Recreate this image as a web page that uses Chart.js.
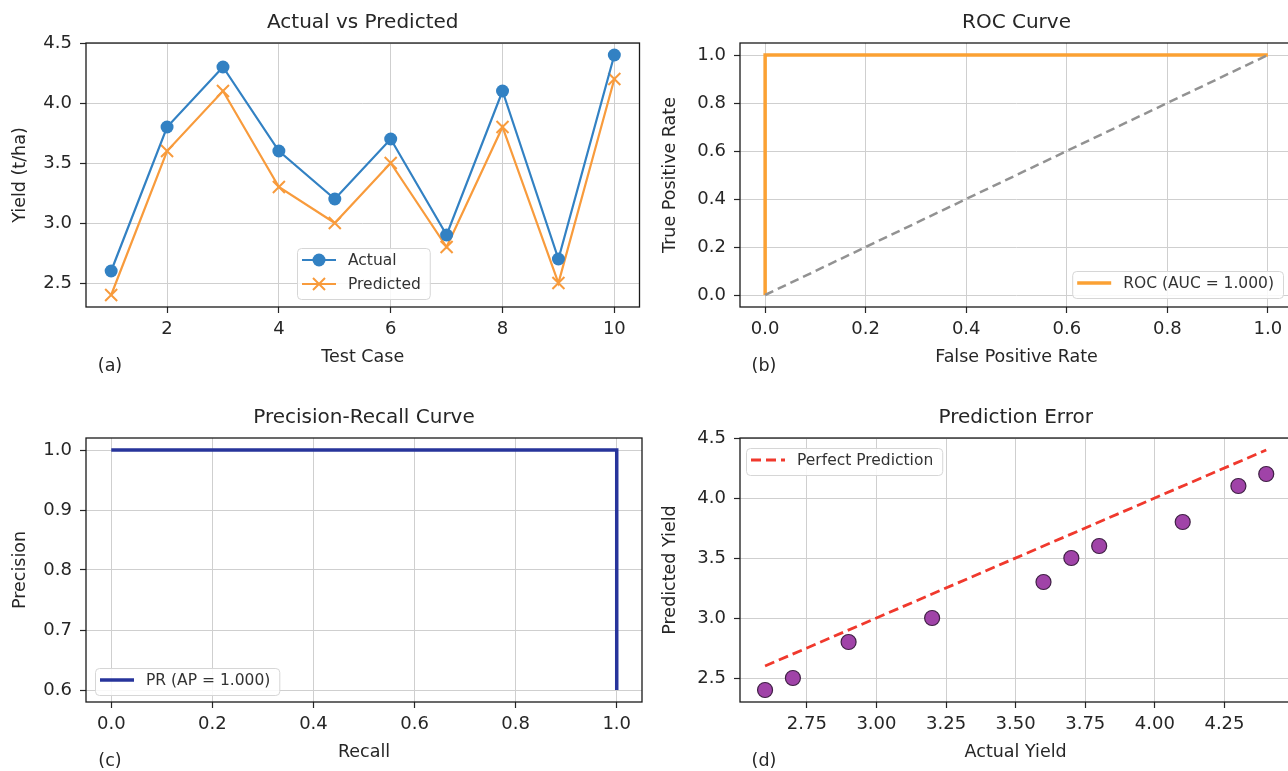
<!DOCTYPE html>
<html>
<head>
<meta charset="utf-8">
<script src="https://cdn.jsdelivr.net/npm/chart.js@4.4.1/dist/chart.umd.min.js"></script>
<style>
  html, body { margin: 0; padding: 0; background: #fff; overflow: hidden; width: 1288px; height: 771px; }
  .panel { position: absolute; }
  canvas { display: block; }
</style>
</head>
<body>
<div class="panel" style="left:0px;top:0px"><canvas id="chartA" width="650" height="387"></canvas></div>
<div class="panel" style="left:650px;top:0px"><canvas id="chartB" width="650" height="387"></canvas></div>
<div class="panel" style="left:0px;top:395px"><canvas id="chartC" width="650" height="387"></canvas></div>
<div class="panel" style="left:650px;top:395px"><canvas id="chartD" width="650" height="387"></canvas></div>
<script>
// Data
const testCases = [1, 2, 3, 4, 5, 6, 7, 8, 9, 10];
const actualYield = [2.6, 3.8, 4.3, 3.6, 3.2, 3.7, 2.9, 4.1, 2.7, 4.4];
const predictedYield = [2.4, 3.6, 4.1, 3.3, 3.0, 3.5, 2.8, 3.8, 2.5, 4.2];

const rocFpr = [0, 0, 1];
const rocTpr = [0, 1, 1];
const chanceLine = [0, 1];

const prRecall = [0, 1, 1];
const prPrecision = [1, 1, 0.6];

const perfectLine = [2.6, 4.4];

// Tick labels
const caseTicks = [2, 4, 6, 8, 10];
const yieldTicks = [2.5, 3.0, 3.5, 4.0, 4.5];
const rateTicks = [0, 0.2, 0.4, 0.6, 0.8, 1.0];
const precisionTicks = [0.6, 0.7, 0.8, 0.9, 1.0];
const actualYieldTicks = [2.75, 3.00, 3.25, 3.50, 3.75, 4.00, 4.25];

Chart.defaults.font.family = 'DejaVu Sans';
Chart.defaults.color = '#262626';

const TEXT = '#262626';
const GRID = '#cfcfcf';

function toPoints(xs, ys) {
  return xs.map((x, i) => ({ x: x, y: ys[i] }));
}

// Build a matplotlib-like linear axis
function makeAxis(o) {
  const horizontal = o.pos === 'bottom';
  return {
    type: 'linear',
    position: o.pos,
    min: o.min,
    max: o.max,
    bounds: 'data',
    afterBuildTicks: (scale) => {
      scale.ticks = o.ticks.map(v => ({ value: v }));
    },
    afterFit: (scale) => {
      if (horizontal) scale.height = 80;
      else scale.width = o.width;
    },
    ticks: {
      autoSkip: false,
      maxRotation: 0,
      padding: horizontal ? 6 : 8,
      font: { size: 18 },
      color: TEXT,
      callback: (v) => Number(v).toFixed(o.dp)
    },
    grid: {
      color: GRID,
      lineWidth: 1,
      tickLength: 6,
      tickColor: TEXT,
      tickWidth: 1.2
    },
    border: { display: false },
    title: {
      display: true,
      text: o.title,
      font: { size: 17.5 },
      color: TEXT,
      padding: horizontal ? { top: 0, bottom: 19.5 } : { top: 9.5, bottom: 9.5 }
    }
  };
}

// Axes frame (all four spines) and panel letter
const framePlugin = {
  id: 'frame',
  afterDatasetsDraw(chart, args, opts) {
    const { ctx, chartArea: a } = chart;
    ctx.save();
    ctx.strokeStyle = '#1a1a1a';
    ctx.lineWidth = 1.3;
    ctx.strokeRect(a.left, a.top, a.right - a.left, a.bottom - a.top);
    ctx.restore();
  },
  afterDraw(chart, args, opts) {
    const { ctx, chartArea: a } = chart;
    ctx.save();
    ctx.font = '17.5px "DejaVu Sans"';
    ctx.fillStyle = TEXT;
    ctx.textAlign = 'center';
    ctx.textBaseline = 'middle';
    ctx.fillText(opts.letter, a.left + 24, a.bottom + 59);
    ctx.restore();
  }
};

// Legend box drawn inside the plot area, like matplotlib
const boxLegendPlugin = {
  id: 'boxLegend',
  afterDraw(chart, args, opts) {
    const { ctx, chartArea: a } = chart;
    const items = chart.data.datasets.filter(d => d.label);
    ctx.save();
    ctx.font = '15.5px "DejaVu Sans"';
    let textW = 0;
    items.forEach(d => { textW = Math.max(textW, ctx.measureText(d.label).width); });
    const w = 5 + 34 + 12 + textW + 9;
    const h = items.length * 24 + 3;
    const x = opts.left !== undefined ? a.left + opts.left : a.right - opts.right - w;
    const y = opts.top !== undefined ? a.top + opts.top : a.bottom - opts.bottom - h;

    ctx.fillStyle = 'rgba(255,255,255,0.85)';
    ctx.strokeStyle = '#d6d6d6';
    ctx.lineWidth = 1;
    ctx.beginPath();
    ctx.roundRect(x + 0.5, y + 0.5, w, h, 4);
    ctx.fill();
    ctx.stroke();

    items.forEach((d, i) => {
      const cy = y + 12 + i * 24;
      const x0 = x + 5, x1 = x + 39, mx = (x0 + x1) / 2;
      ctx.strokeStyle = d.borderColor;
      ctx.lineWidth = d.borderWidth;
      ctx.setLineDash(d.borderDash || []);
      ctx.beginPath();
      ctx.moveTo(x0, cy);
      ctx.lineTo(x1, cy);
      ctx.stroke();
      ctx.setLineDash([]);
      if (d.legendMarker === 'circle') {
        ctx.fillStyle = d.pointBackgroundColor;
        ctx.beginPath();
        ctx.arc(mx, cy, d.pointRadius, 0, Math.PI * 2);
        ctx.fill();
      } else if (d.legendMarker === 'cross') {
        const r = d.pointRadius * 0.707;
        ctx.strokeStyle = d.pointBorderColor;
        ctx.lineWidth = d.pointBorderWidth;
        ctx.beginPath();
        ctx.moveTo(mx - r, cy - r); ctx.lineTo(mx + r, cy + r);
        ctx.moveTo(mx - r, cy + r); ctx.lineTo(mx + r, cy - r);
        ctx.stroke();
      }
      ctx.fillStyle = '#333';
      ctx.textAlign = 'left';
      ctx.textBaseline = 'middle';
      ctx.fillText(d.label, x + 51, cy + 1);
    });
    ctx.restore();
  }
};

function baseOptions(title, letter, legend, xAxis, yAxis, padRight) {
  return {
    responsive: false,
    animation: false,
    events: [],
    layout: { padding: { left: 0, top: 0, right: padRight, bottom: 0 } },
    plugins: {
      legend: { display: false },
      tooltip: { enabled: false },
      title: {
        display: true,
        text: title,
        fullSize: false,
        font: { size: 20, weight: 'normal' },
        color: TEXT,
        padding: { top: 11, bottom: 8 }
      },
      frame: { letter: letter },
      boxLegend: legend
    },
    scales: { x: xAxis, y: yAxis }
  };
}

// (a) Actual vs Predicted
new Chart(document.getElementById('chartA'), {
  type: 'scatter',
  data: {
    datasets: [
      {
        label: 'Actual',
        data: toPoints(testCases, actualYield),
        showLine: true,
        borderColor: '#3281c3',
        borderWidth: 2.2,
        pointStyle: 'circle',
        pointRadius: 6.5,
        pointBackgroundColor: '#3281c3',
        pointBorderColor: '#3281c3',
        pointBorderWidth: 0,
        legendMarker: 'circle',
        clip: false
      },
      {
        label: 'Predicted',
        data: toPoints(testCases, predictedYield),
        showLine: true,
        borderColor: '#f89b3c',
        borderWidth: 2.2,
        pointStyle: 'crossRot',
        pointRadius: 8.5,
        pointBorderColor: '#f89b3c',
        pointBackgroundColor: '#f89b3c',
        pointBorderWidth: 2,
        legendMarker: 'cross',
        clip: false
      }
    ]
  },
  options: baseOptions('Actual vs Predicted', '(a)', { left: 211, top: 205 },
    makeAxis({ pos: 'bottom', min: 0.55, max: 10.45, ticks: caseTicks, dp: 0, title: 'Test Case' }),
    makeAxis({ pos: 'left', min: 2.3, max: 4.5, ticks: yieldTicks, dp: 1, title: 'Yield (t/ha)', width: 86 }),
    8),
  plugins: [framePlugin, boxLegendPlugin]
});

// (b) ROC Curve
new Chart(document.getElementById('chartB'), {
  type: 'scatter',
  data: {
    datasets: [
      {
        data: toPoints(chanceLine, chanceLine),
        showLine: true,
        borderColor: '#929292',
        borderWidth: 2.5,
        borderDash: [9, 5],
        pointRadius: 0
      },
      {
        label: 'ROC (AUC = 1.000)',
        data: toPoints(rocFpr, rocTpr),
        showLine: true,
        borderColor: '#fba133',
        borderWidth: 3.5,
        pointRadius: 0,
        clip: false
      }
    ]
  },
  options: baseOptions('ROC Curve', '(b)', { right: 10, bottom: 9 },
    makeAxis({ pos: 'bottom', min: -0.05, max: 1.05, ticks: rateTicks, dp: 1, title: 'False Positive Rate' }),
    makeAxis({ pos: 'left', min: -0.05, max: 1.05, ticks: rateTicks, dp: 1, title: 'True Positive Rate', width: 90 }),
    7),
  plugins: [framePlugin, boxLegendPlugin]
});

// (c) Precision-Recall Curve
new Chart(document.getElementById('chartC'), {
  type: 'scatter',
  data: {
    datasets: [
      {
        label: 'PR (AP = 1.000)',
        data: toPoints(prRecall, prPrecision),
        showLine: true,
        borderColor: '#27349b',
        borderWidth: 3.5,
        pointRadius: 0,
        clip: false
      }
    ]
  },
  options: baseOptions('Precision-Recall Curve', '(c)', { left: 9, bottom: 7 },
    makeAxis({ pos: 'bottom', min: -0.05, max: 1.05, ticks: rateTicks, dp: 1, title: 'Recall' }),
    makeAxis({ pos: 'left', min: 0.58, max: 1.02, ticks: precisionTicks, dp: 1, title: 'Precision', width: 86 }),
    8),
  plugins: [framePlugin, boxLegendPlugin]
});

// (d) Prediction Error
new Chart(document.getElementById('chartD'), {
  type: 'scatter',
  data: {
    datasets: [
      {
        label: 'Perfect Prediction',
        data: toPoints(perfectLine, perfectLine),
        showLine: true,
        borderColor: '#f0392d',
        borderWidth: 2.8,
        borderDash: [10, 5],
        pointRadius: 0
      },
      {
        data: toPoints(actualYield, predictedYield),
        pointStyle: 'circle',
        pointRadius: 7.5,
        pointBackgroundColor: '#a043a8',
        pointBorderColor: '#3f1f44',
        pointBorderWidth: 1.2,
        clip: false
      }
    ]
  },
  options: baseOptions('Prediction Error', '(d)', { left: 6, top: 10 },
    makeAxis({ pos: 'bottom', min: 2.51, max: 4.49, ticks: actualYieldTicks, dp: 2, title: 'Actual Yield' }),
    makeAxis({ pos: 'left', min: 2.3, max: 4.5, ticks: yieldTicks, dp: 1, title: 'Predicted Yield', width: 90 }),
    7),
  plugins: [framePlugin, boxLegendPlugin]
});
</script>
</body>
</html>
